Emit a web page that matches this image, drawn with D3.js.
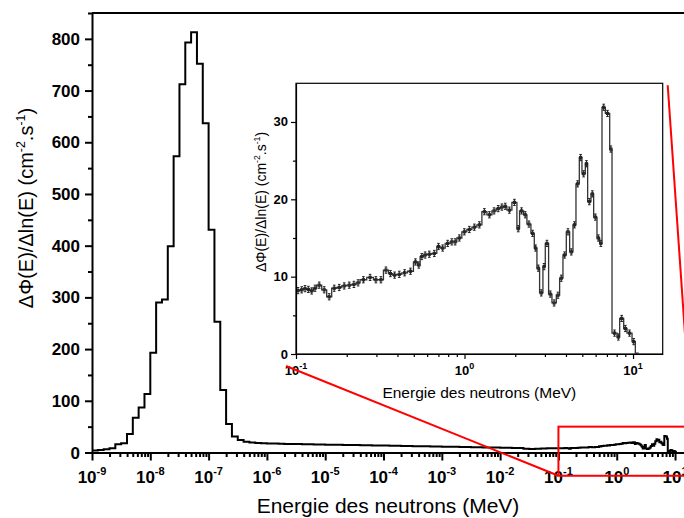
<!DOCTYPE html>
<html lang="fr">
<head>
<meta charset="utf-8">
<title>Spectre neutronique</title>
<script src="https://d3js.org/d3.v7.min.js"></script>
<style>
  body { margin: 0; background: #fff; }
  svg { display: block; font-family: "Liberation Sans", Arial, Helvetica, sans-serif; }
</style>
</head>
<body>
<script>
  // ---------------------------------------------------------------
  // Data
  // ---------------------------------------------------------------
  // thermal + epithermal part: 10 bins per decade starting at 1e-9 MeV
  const thermalStartExp = -9;
  const thermalBinsPerDecade = 10;
  const thermalFlux = [
    4, 5, 6.5, 8, 16, 18, 36, 67, 87, 113,
    193, 290, 296, 399, 573, 712, 793, 813, 752, 637,
    431, 253, 121, 55, 31, 24, 21, 19.5, 18.5, 18,
    17.5, 17.2, 16.9, 16.6, 16.4, 16.2, 16.0, 15.8, 15.6, 15.4,
    15.2, 15.0, 14.8, 14.6, 14.5, 14.3, 14.1, 13.9, 13.7, 13.5,
    13.3, 13.1, 12.9, 12.7, 12.5, 12.3, 12.1, 11.9, 11.7, 11.5,
    11.3, 11.1, 10.9, 10.7, 10.5, 10.3, 10.1, 9.9, 9.7, 9.5,
    9.3, 9.1, 8.9, 8.6, 7.2, 6.6, 7.4, 7.8, 8.0, 8.1
  ];

  // fast part (zoomed in the inset): lower bin edges in MeV, last entry closes the last bin
  const fastEdges = [
    0.1000, 0.1056, 0.1106, 0.1157, 0.1211, 0.1268, 0.1327, 0.1421, 0.1521, 0.1629,
    0.1745, 0.1867, 0.2000, 0.2142, 0.2272, 0.2400, 0.2630, 0.2880, 0.3083, 0.3303,
    0.3537, 0.3735, 0.3963, 0.4244, 0.4585, 0.4977, 0.5258, 0.5453, 0.5706, 0.5973,
    0.6397, 0.6849, 0.7168, 0.7677, 0.8219, 0.8603, 0.9005, 0.9643, 1.032, 1.106,
    1.184, 1.268, 1.358, 1.454, 1.542, 1.629, 1.705, 1.785, 1.911, 2.046,
    2.122, 2.241, 2.346, 2.478, 2.594, 2.690, 2.790, 2.920, 3.015, 3.155,
    3.303, 3.505, 3.668, 3.839, 4.018, 4.206, 4.402, 4.586, 4.800, 4.977,
    5.210, 5.379, 5.630, 5.839, 6.111, 6.339, 6.545, 6.851, 7.270, 7.505,
    8.035, 8.333, 8.802, 9.212, 9.865, 10.32, 10.81
  ];
  const fastFlux = [
    8.2, 8.3, 8.45, 8.35, 8.15, 8.5, 8.9, 8.3, 7.4, 8.5,
    8.6, 8.8, 8.9, 9.0, 9.2, 9.6, 9.9, 9.6, 9.6, 10.85,
    10.4, 10.2, 10.3, 10.5, 10.7, 11.9, 11.5, 12.6, 12.8, 12.9,
    13.0, 13.9, 13.7, 14.3, 14.5, 14.5, 15.0, 15.8, 16.1, 16.4,
    16.7, 18.4, 18.0, 18.5, 18.8, 19.0, 19.1, 18.6, 19.6, 16.2,
    18.5, 18.0, 16.8, 15.6, 13.7, 11.1, 7.9, 11.3, 14.3, 7.75,
    6.6, 7.6, 9.8, 12.8, 15.8, 13.2, 16.7, 22.0, 25.4, 23.3,
    24.6, 19.7, 20.7, 17.7, 15.0, 14.3, 31.9, 31.1, 26.5, 2.7,
    2.2, 4.6, 3.3, 2.7, 1.6, 0.1
  ];
  const fastErrHalf = 0.4;

  const mainYTicks = [0, 100, 200, 300, 400, 500, 600, 700, 800];
  const mainYMinor = [50, 150, 250, 350, 450, 550, 650, 750, 850];
  const mainXDecades = [-9, -8, -7, -6, -5, -4, -3, -2, -1, 0, 1];
  const insetYTicks = [0, 10, 20, 30];
  const insetYMinor = [5, 15, 25];
  const insetXDecades = [-1, 0, 1];

  // zoom frame drawn on the main plot (data units)
  const zoomFrame = { e0: 0.1, e1: 20, v0: -45, v1: 50 };

  // ---------------------------------------------------------------
  // Layout
  // ---------------------------------------------------------------
  const W = 684, H = 518;
  const main = { left: 92, right: 686.7, top: 13, bottom: 452.5 };
  const inset = { left: 296, right: 662.7, top: 83.3, bottom: 354 };

  const svg = d3.select("body").append("svg")
    .attr("width", W).attr("height", H);

  const xMain = d3.scaleLog().domain([1e-9, Math.pow(10, 1.2)]).range([main.left, main.right]);
  const yMain = d3.scaleLinear().domain([0, 850]).range([main.bottom, main.top]);
  const xIn = d3.scaleLog().domain([0.1, 15]).range([inset.left, inset.right]);
  const yIn = d3.scaleLinear().domain([0, 35]).range([inset.bottom, inset.top]);

  // bins
  const thermalBins = thermalFlux.map((v, i) => ({
    e0: Math.pow(10, thermalStartExp + i / thermalBinsPerDecade),
    e1: Math.pow(10, thermalStartExp + (i + 1) / thermalBinsPerDecade),
    v
  }));
  const fastBins = fastFlux.map((v, i) => ({ e0: fastEdges[i], e1: fastEdges[i + 1], v }));

  function stepPoints(bins) {
    const pts = bins.map(b => [b.e0, b.v]);
    const last = bins[bins.length - 1];
    pts.push([last.e1, last.v]);
    return pts;
  }

  function logMinor(decades, domain) {
    const out = [];
    decades.forEach(d => {
      for (let k = 2; k <= 9; k++) {
        const v = k * Math.pow(10, d);
        if (v > domain[0] && v < domain[1]) out.push(v);
      }
    });
    return out;
  }

  function powLabel(sel, exp, size, supSize) {
    sel.text("10");
    sel.append("tspan")
      .attr("font-size", supSize)
      .attr("dy", -size * 0.45)
      .text(exp);
  }

  // ---------------------------------------------------------------
  // Main plot
  // ---------------------------------------------------------------
  const gMain = svg.append("g");

  const mainLine = d3.line()
    .x(d => xMain(d[0]))
    .y(d => yMain(d[1]))
    .curve(d3.curveStepAfter);

  gMain.append("path")
    .datum(stepPoints(thermalBins.concat(fastBins)))
    .attr("d", mainLine)
    .attr("fill", "none")
    .attr("stroke", "#000")
    .attr("stroke-width", 2)
    .attr("stroke-linejoin", "miter");

  // x axis
  const xMajor = mainXDecades.map(d => Math.pow(10, d));
  const gx = gMain.append("g").attr("transform", `translate(0,${main.bottom})`);
  gx.call(d3.axisBottom(xMain).tickValues(xMajor).tickSize(8).tickSizeOuter(0).tickFormat(""));
  gx.append("g").call(d3.axisBottom(xMain).tickValues(logMinor(mainXDecades.slice(0, -1), xMain.domain()))
    .tickSize(4.5).tickSizeOuter(0).tickFormat(""))
    .select(".domain").remove();
  gx.selectAll("path, line").attr("stroke", "#000").attr("stroke-width", 2);

  gMain.append("g").selectAll("text")
    .data(mainXDecades)
    .join("text")
    .attr("x", d => xMain(Math.pow(10, d)))
    .attr("y", 483)
    .attr("text-anchor", "middle")
    .attr("font-size", 17)
    .attr("font-weight", "bold")
    .each(function(d) { powLabel(d3.select(this), d, 17, 11); });

  // y axis
  const gy = gMain.append("g").attr("transform", `translate(${main.left},0)`);
  gy.call(d3.axisLeft(yMain).tickValues(mainYTicks).tickSize(7).tickSizeOuter(0).tickFormat(""));
  gy.append("g").call(d3.axisLeft(yMain).tickValues(mainYMinor).tickSize(4).tickSizeOuter(0).tickFormat(""))
    .select(".domain").remove();
  gy.selectAll("path, line").attr("stroke", "#000").attr("stroke-width", 2);

  gMain.append("g").selectAll("text")
    .data(mainYTicks)
    .join("text")
    .attr("x", 80)
    .attr("y", d => yMain(d) + 6)
    .attr("text-anchor", "end")
    .attr("font-size", 17)
    .attr("font-weight", "bold")
    .text(d => d);

  // top frame line
  gMain.append("line")
    .attr("x1", main.left).attr("x2", main.right)
    .attr("y1", main.top).attr("y2", main.top)
    .attr("stroke", "#000").attr("stroke-width", 2);

  // titles
  gMain.append("text")
    .attr("x", 388).attr("y", 513)
    .attr("text-anchor", "middle")
    .attr("font-size", 21)
    .text("Energie des neutrons (MeV)");

  function fluxTitle(sel, size) {
    const sup = size * 0.62;
    sel.append("tspan").text("ΔΦ(E)/Δln(E) (cm");
    sel.append("tspan").attr("font-size", sup).attr("dy", -size * 0.42).text("-2");
    sel.append("tspan").attr("dy", size * 0.42).text(".s");
    sel.append("tspan").attr("font-size", sup).attr("dy", -size * 0.42).text("-1");
    sel.append("tspan").attr("dy", size * 0.42).text(")");
  }

  gMain.append("text")
    .attr("transform", "translate(33,208) rotate(-90)")
    .attr("text-anchor", "middle")
    .attr("font-size", 20)
    .call(fluxTitle, 20);

  // ---------------------------------------------------------------
  // Inset
  // ---------------------------------------------------------------
  const gIn = svg.append("g");

  gIn.append("rect")
    .attr("x", inset.left).attr("y", inset.top)
    .attr("width", inset.right - inset.left)
    .attr("height", inset.bottom - inset.top)
    .attr("fill", "#fff")
    .attr("stroke", "#000")
    .attr("stroke-width", 1.2);

  const inLine = d3.line()
    .x(d => xIn(d[0]))
    .y(d => yIn(d[1]))
    .curve(d3.curveStepAfter);

  gIn.append("path")
    .datum(stepPoints(fastBins))
    .attr("d", inLine)
    .attr("fill", "none")
    .attr("stroke", "#333")
    .attr("stroke-width", 1.3);

  // error bars + small markers at bin centres
  const errG = gIn.append("g").attr("stroke", "#222").attr("stroke-width", 1).attr("fill", "none");
  const centres = fastBins.filter(b => b.v > 0.5).map(b => ({ e: Math.sqrt(b.e0 * b.e1), v: b.v }));
  errG.selectAll("path.err")
    .data(centres)
    .join("path")
    .attr("class", "err")
    .attr("d", d => {
      const x = xIn(d.e), y0 = yIn(d.v - fastErrHalf), y1 = yIn(d.v + fastErrHalf);
      return `M${x},${y0}V${y1}M${x - 1.3},${y0}h2.6M${x - 1.3},${y1}h2.6`;
    });
  errG.selectAll("rect")
    .data(centres)
    .join("rect")
    .attr("x", d => xIn(d.e) - 1.1)
    .attr("y", d => yIn(d.v) - 1.1)
    .attr("width", 2.2).attr("height", 2.2);

  // inset axes
  const gix = gIn.append("g").attr("transform", `translate(0,${inset.bottom})`);
  gix.call(d3.axisBottom(xIn).tickValues(insetXDecades.map(d => Math.pow(10, d))).tickSize(5).tickSizeOuter(0).tickFormat(""));
  gix.append("g").call(d3.axisBottom(xIn).tickValues(logMinor(insetXDecades, xIn.domain()))
    .tickSize(3).tickSizeOuter(0).tickFormat(""))
    .select(".domain").remove();
  gix.selectAll("path, line").attr("stroke", "#000").attr("stroke-width", 1.2);

  gIn.append("g").selectAll("text")
    .data(insetXDecades)
    .join("text")
    .attr("x", d => xIn(Math.pow(10, d)))
    .attr("y", 375)
    .attr("text-anchor", "middle")
    .attr("font-size", 13)
    .attr("font-weight", "bold")
    .each(function(d) { powLabel(d3.select(this), d, 13, 9); });

  const giy = gIn.append("g").attr("transform", `translate(${inset.left},0)`);
  giy.call(d3.axisLeft(yIn).tickValues(insetYTicks).tickSize(5).tickSizeOuter(0).tickFormat(""));
  giy.append("g").call(d3.axisLeft(yIn).tickValues(insetYMinor).tickSize(3).tickSizeOuter(0).tickFormat(""))
    .select(".domain").remove();
  giy.selectAll("path, line").attr("stroke", "#000").attr("stroke-width", 1.2);

  gIn.append("g").selectAll("text")
    .data(insetYTicks)
    .join("text")
    .attr("x", 288)
    .attr("y", d => yIn(d) + 4.5)
    .attr("text-anchor", "end")
    .attr("font-size", 13)
    .attr("font-weight", "bold")
    .text(d => d);

  gIn.append("text")
    .attr("x", (inset.left + inset.right) / 2).attr("y", 398)
    .attr("text-anchor", "middle")
    .attr("font-size", 15.5)
    .text("Energie des neutrons (MeV)");

  gIn.append("text")
    .attr("transform", "translate(266,202) rotate(-90)")
    .attr("text-anchor", "middle")
    .attr("font-size", 14)
    .call(fluxTitle, 14);

  // ---------------------------------------------------------------
  // Red zoom frame and connectors
  // ---------------------------------------------------------------
  const fx0 = xMain(zoomFrame.e0), fx1 = xMain(zoomFrame.e1);
  const fy0 = yMain(zoomFrame.v1), fy1 = yMain(zoomFrame.v0);
  const red = svg.append("g").attr("stroke", "#ff0000").attr("stroke-width", 2).attr("fill", "none");
  red.append("rect")
    .attr("x", fx0).attr("y", fy0)
    .attr("width", fx1 - fx0).attr("height", fy1 - fy0);
  red.append("line")
    .attr("x1", fx0).attr("y1", fy1)
    .attr("x2", inset.left - 10).attr("y2", inset.bottom + 12);
  red.append("line")
    .attr("x1", inset.right + 5).attr("y1", inset.top + 2)
    .attr("x2", fx0 + 133).attr("y2", fy0);
</script>
</body>
</html>
